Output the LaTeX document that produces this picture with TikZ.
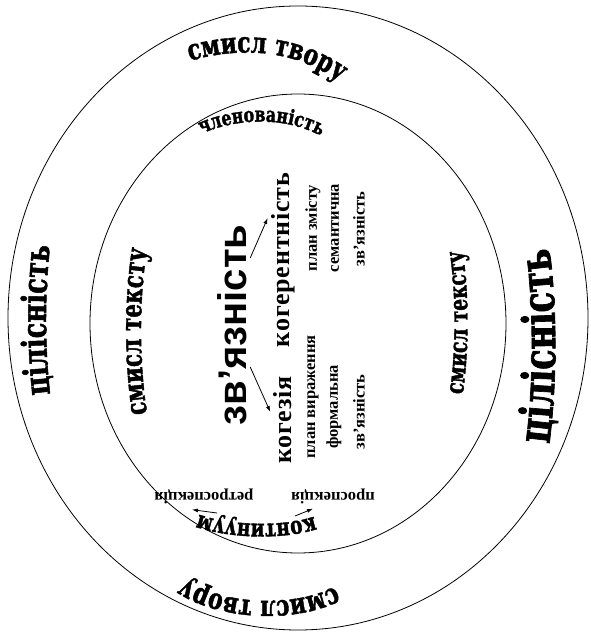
\documentclass[tikz,border=0pt]{standalone}
\usepackage{fontspec}
\setmainfont{Liberation Serif}
\newfontfamily\ringfont[FakeStretch=0.75, FakeBold=1.5]{DejaVu Serif}
\newfontfamily\zvfont{Liberation Sans}
\newfontfamily\spacedfont[LetterSpace=3]{Liberation Serif}
\usetikzlibrary{decorations.text, arrows.meta, positioning, calc}

% sizes of the texts round the rings
\newcommand\ringA{\ringfont\bfseries\fontsize{29pt}{31pt}\selectfont}
\newcommand\ringB{\ringfont\bfseries\fontsize{34pt}{36pt}\selectfont}
\newcommand\ringC{\ringfont\bfseries\fontsize{45pt}{47pt}\selectfont}
\newcommand\ringD{\ringfont\bfseries\fontsize{21pt}{23pt}\selectfont}
\newcommand\ringE{\ringfont\bfseries\fontsize{24.5pt}{26pt}\selectfont}
\newcommand\ringF{\ringfont\bfseries\fontsize{28.5pt}{30pt}\selectfont}
\newcommand\ringG{\ringfont\bfseries\fontsize{25pt}{27pt}\selectfont}

\tikzset{
    ring/.style = {draw, line width=0.8pt},
    arctext/.style = {decorate, decoration={text along path, text align=center, text={#1}}},
    mainlbl/.style = {rotate=90, font=\spacedfont\bfseries\fontsize{26pt}{28pt}\selectfont},
    sub/.style = {inner sep=1pt, font=\bfseries\fontsize{16.5pt}{18pt}\selectfont},
    arr/.style = {-{Latex[length=6pt,width=4pt]}, line width=0.8pt}
}

\begin{document}
\begin{tikzpicture}[x=1pt, y=1pt]
    \useasboundingbox (0,0) rectangle (591,633);
    \coordinate (co) at (298,315);
    \coordinate (ci) at (298,309.5);
    % the two rings
    \draw[ring] (co) ellipse [x radius=290pt, y radius=312pt];
    \draw[ring] (ci) ellipse [x radius=208pt, y radius=229.5pt];
    % outer ring
    \path[arctext={|\ringA|смисл твору}] (180,569) .. controls (240,589) and (300,584) .. (348,545);
    \path[arctext={|\ringA|смисл твору}] (345,53) .. controls (305,23) and (215,25) .. (175,61);
    \path[arctext={|\ringB|цілісність}] (52,223) .. controls (44,283) and (44,343) .. (52,403);
    \path[arctext={|\ringC|цілісність}] (547,173) .. controls (558,243) and (558,333) .. (547,401);
    % inner ring
    \path[arctext={|\ringD|членованість}] (190,493) .. controls (225,515) and (290,521) .. (332,490);
    \path[arctext={|\ringE|континуум}] (325,121) .. controls (295,105) and (225,105) .. (188,123);
    \path[arctext={|\ringF|смисл тексту}] (150,203) .. controls (138,263) and (138,343) .. (150,400);
    \path[arctext={|\ringG|смисл тексту}] (460,223) .. controls (470,273) and (470,348) .. (460,398);
    % centre
    \node[rotate=90, font=\zvfont\bfseries\fontsize{40pt}{44pt}\selectfont] (zv) at (232,308) {зв’язність};
    \node[mainlbl] (kohez) at (283,213) {когезія};
    \node[mainlbl] (koher) at (283,373) {когерентність};
    \node[sub, rotate=90] (vyr) at (313,236) {план вираження};
    \node[sub, rotate=90] (form) at (334,226) {формальна};
    \node[sub, rotate=90] (zvl) at (359,221) {зв’язність};
    \node[sub, rotate=90] (zmist) at (313,405) {план змісту};
    \node[sub, rotate=90] (sem) at (335,405) {семантична};
    \node[sub, rotate=90] (zvr) at (359,404) {зв’язність};
    \draw[arr] ([yshift=-42pt]zv.south) -- ([yshift=8pt]kohez.north);
    \draw[arr] ([yshift=67pt]zv.south) -- ([yshift=42pt]koher.north);
    % bottom
    \node[sub, rotate=180] (retro) at (204,137) {ретроспекція};
    \node[sub, rotate=180] (prosp) at (333,137) {проспекція};
    \coordinate (kl) at (217,120);
    \coordinate (kr) at (295,117);
    \draw[arr] (kl) -- ([xshift=-12pt,yshift=-5pt]retro.north);
    \draw[arr] (kr) -- ([xshift=-20pt,yshift=-4pt]prosp.north);
\end{tikzpicture}
\end{document}
